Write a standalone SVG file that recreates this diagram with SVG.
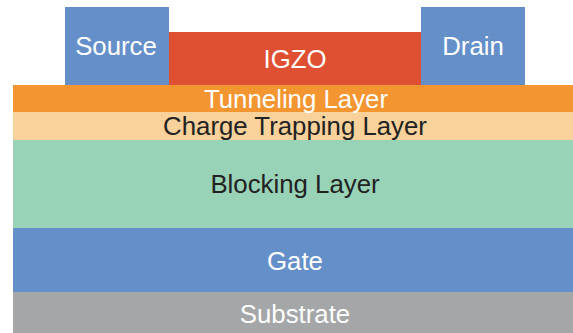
<svg xmlns="http://www.w3.org/2000/svg" width="573" height="333" viewBox="0 0 573 333">
  <style>
    text { font-family: "Liberation Sans", Arial, sans-serif; font-size: 25.8px; text-anchor: middle; }
    .light { fill: #ffffff; }
    .dark { fill: #222222; }
  </style>
  <rect width="573" height="333" fill="#ffffff"/>
  <!-- Layer stack, bottom to top -->
  <g id="substrate">
    <rect x="13" y="292" width="560" height="41" fill="#a5a6a8"/>
    <text class="light" x="295" y="323">Substrate</text>
  </g>
  <g id="gate">
    <rect x="13" y="228" width="560" height="64" fill="#658fc9"/>
    <text class="light" x="295" y="270">Gate</text>
  </g>
  <g id="blocking-layer">
    <rect x="13" y="140" width="560" height="88" fill="#98d3b8"/>
    <text class="dark" x="295" y="193">Blocking Layer</text>
  </g>
  <g id="charge-trapping-layer">
    <rect x="13" y="112" width="560" height="28" fill="#f8d19b"/>
    <text class="dark" x="295" y="135">Charge Trapping Layer</text>
  </g>
  <g id="tunneling-layer">
    <rect x="13" y="85" width="560" height="27" fill="#f39530"/>
    <text class="light" x="296" y="108">Tunneling Layer</text>
  </g>
  <g id="igzo">
    <rect x="169" y="32" width="252" height="53" fill="#df4f32"/>
    <text class="light" x="295" y="68">IGZO</text>
  </g>
  <g id="source">
    <rect x="65" y="7" width="104" height="78" fill="#658fc9"/>
    <text class="light" x="116" y="55">Source</text>
  </g>
  <g id="drain">
    <rect x="421" y="7" width="104" height="78" fill="#658fc9"/>
    <text class="light" x="473" y="55">Drain</text>
  </g>
  <g id="connectors"/>
</svg>
